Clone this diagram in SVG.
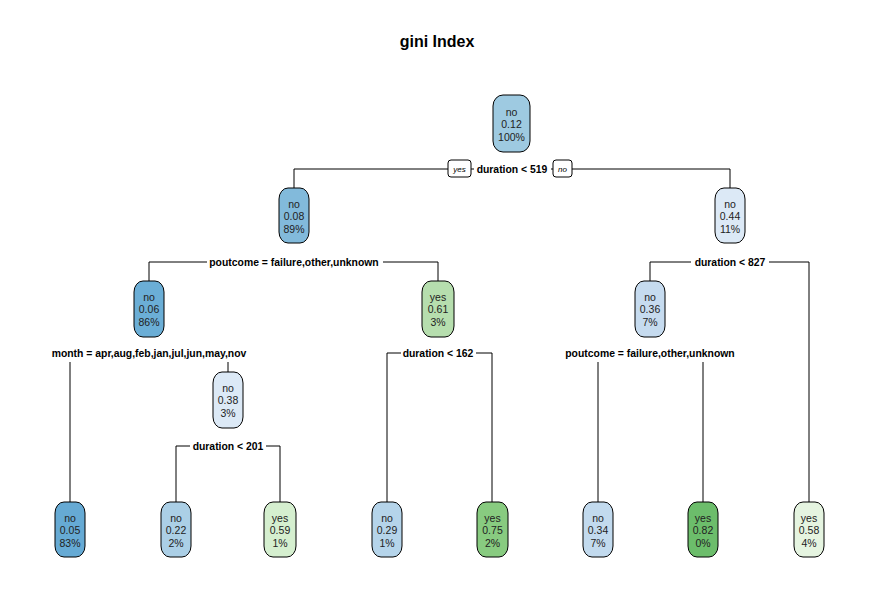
<svg xmlns="http://www.w3.org/2000/svg" width="875" height="592" viewBox="0 0 875 592">
<style>
.bg{fill:#ffffff}
.title{font-family:"Liberation Sans",Arial,sans-serif;font-size:16px;font-weight:bold;fill:#000;text-anchor:middle}
.node rect{stroke:#000;stroke-width:1}
.node text{font-family:"Liberation Sans",Arial,sans-serif;font-size:10.5px;fill:#222;text-anchor:middle}
.conn path{fill:none;stroke:#000;stroke-width:1}
.split rect{fill:#fff;stroke:none}
.split text{font-family:"Liberation Sans",Arial,sans-serif;font-size:10.4px;font-weight:bold;fill:#000;text-anchor:middle}
.yn rect{fill:#fff;stroke:#000;stroke-width:1}
.yn text{font-family:"Liberation Sans",Arial,sans-serif;font-size:8px;font-style:italic;fill:#000;text-anchor:middle}
</style>
<rect class="bg" x="0" y="0" width="875" height="592"/>
<text class="title" x="437" y="47">gini Index</text>

<g id="connectors" class="conn">
<path d="M294 188 V169 H730 V188"/>
<path d="M149 281 V262 H438 V281"/>
<path d="M650 281 V262 H809 V502"/>
<path d="M70 502 V353 H228 V372"/>
<path d="M387 502 V353 H492 V502"/>
<path d="M598 502 V353 H703 V502"/>
<path d="M176 502 V446 H280 V502"/>
</g>

<g id="split-labels" class="split">
<rect x="474" y="162" width="77" height="14"/>
<text x="512" y="172.5">duration &lt; 519</text>
<rect x="207" y="255" width="176" height="14"/>
<text x="294" y="265.5">poutcome = failure,other,unknown</text>
<rect x="691" y="255" width="78" height="14"/>
<text x="730" y="265.5">duration &lt; 827</text>
<rect x="48" y="346" width="202" height="16"/>
<text x="149" y="356.5">month = apr,aug,feb,jan,jul,jun,may,nov</text>
<rect x="401" y="346" width="75" height="14"/>
<text x="438" y="356.5">duration &lt; 162</text>
<rect x="563" y="346" width="174" height="16"/>
<text x="650" y="356.5">poutcome = failure,other,unknown</text>
<rect x="190" y="439" width="76" height="14"/>
<text x="228" y="449.5">duration &lt; 201</text>
</g>

<g id="yes-no" class="yn">
<rect x="448" y="160" width="23" height="17" rx="3"/>
<text x="459.5" y="171.5">yes</text>
<rect x="553" y="160" width="19" height="17" rx="3"/>
<text x="562.5" y="171.5">no</text>
</g>

<g id="n1" class="node">
<rect x="493" y="95" width="37" height="57" rx="10" ry="11" fill="#9ECAE1"/>
<text x="511.5" y="116">no</text><text x="511.5" y="128">0.12</text><text x="511.5" y="141">100%</text>
</g>
<g id="n2" class="node">
<rect x="279" y="188" width="30" height="55" rx="9" ry="11" fill="#82BADB"/>
<text x="294" y="208">no</text><text x="294" y="220">0.08</text><text x="294" y="233">89%</text>
</g>
<g id="n3" class="node">
<rect x="715" y="188" width="30" height="55" rx="9" ry="11" fill="#DCE9F6"/>
<text x="730" y="208">no</text><text x="730" y="220">0.44</text><text x="730" y="233">11%</text>
</g>
<g id="n4" class="node">
<rect x="134" y="281" width="30" height="56" rx="9" ry="11" fill="#6BAED6"/>
<text x="149" y="301">no</text><text x="149" y="313">0.06</text><text x="149" y="326">86%</text>
</g>
<g id="n5" class="node">
<rect x="422" y="281" width="32" height="56" rx="9" ry="11" fill="#B6DEAE"/>
<text x="438" y="301">yes</text><text x="438" y="313">0.61</text><text x="438" y="326">3%</text>
</g>
<g id="n6" class="node">
<rect x="635" y="281" width="30" height="56" rx="9" ry="11" fill="#C6DBEF"/>
<text x="650" y="301">no</text><text x="650" y="313">0.36</text><text x="650" y="326">7%</text>
</g>
<g id="n9" class="node">
<rect x="213" y="372" width="30" height="56" rx="9" ry="11" fill="#DCE9F6"/>
<text x="228" y="392">no</text><text x="228" y="404">0.38</text><text x="228" y="417">3%</text>
</g>
<g id="leaf1" class="node">
<rect x="55" y="502" width="30" height="55" rx="9" ry="11" fill="#66AAD4"/>
<text x="70" y="522">no</text><text x="70" y="534">0.05</text><text x="70" y="547">83%</text>
</g>
<g id="leaf2" class="node">
<rect x="161" y="502" width="30" height="55" rx="9" ry="11" fill="#ABCFE6"/>
<text x="176" y="522">no</text><text x="176" y="534">0.22</text><text x="176" y="547">2%</text>
</g>
<g id="leaf3" class="node">
<rect x="264" y="502" width="32" height="55" rx="9" ry="11" fill="#D5EFCF"/>
<text x="280" y="522">yes</text><text x="280" y="534">0.59</text><text x="280" y="547">1%</text>
</g>
<g id="leaf4" class="node">
<rect x="372" y="502" width="30" height="55" rx="9" ry="11" fill="#B5D4EA"/>
<text x="387" y="522">no</text><text x="387" y="534">0.29</text><text x="387" y="547">1%</text>
</g>
<g id="leaf5" class="node">
<rect x="477" y="502" width="31" height="55" rx="9" ry="11" fill="#88CB80"/>
<text x="492.5" y="522">yes</text><text x="492.5" y="534">0.75</text><text x="492.5" y="547">2%</text>
</g>
<g id="leaf6" class="node">
<rect x="583" y="502" width="30" height="55" rx="9" ry="11" fill="#C2DAEE"/>
<text x="598" y="522">no</text><text x="598" y="534">0.34</text><text x="598" y="547">7%</text>
</g>
<g id="leaf7" class="node">
<rect x="688" y="502" width="30" height="55" rx="9" ry="11" fill="#6CBD6B"/>
<text x="703" y="522">yes</text><text x="703" y="534">0.82</text><text x="703" y="547">0%</text>
</g>
<g id="leaf8" class="node">
<rect x="794" y="502" width="30" height="55" rx="9" ry="11" fill="#E5F4E0"/>
<text x="809" y="522">yes</text><text x="809" y="534">0.58</text><text x="809" y="547">4%</text>
</g>
</svg>
